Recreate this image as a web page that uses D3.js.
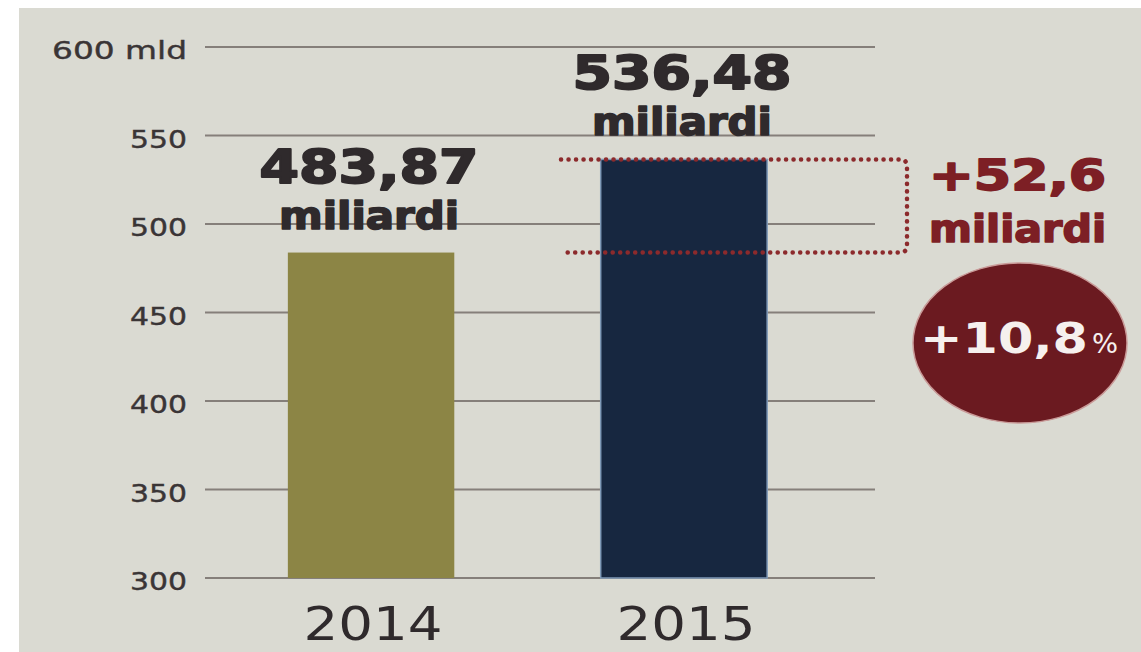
<!DOCTYPE html>
<html>
<head>
<meta charset="utf-8">
<script src="https://cdn.jsdelivr.net/npm/d3@7"></script>
<style>
  body { margin: 0; background: #fff; }
</style>
</head>
<body>
<div id="chart"></div>
<script>
  // data
  const years = ["2014", "2015"];
  const values = [483.87, 536.48];
  const valueLabels = ["483,87", "536,48"];
  const barColors = ["#8c8545", "#172740"];
  const tickValues = [300, 350, 400, 450, 500, 550, 600];
  const tickLabels = ["300", "350", "400", "450", "500", "550", "600 mld"];
  const unitLabel = "miliardi";
  const deltaLabel = "+52,6";
  const pctLabel = "+10,8";

  const width = 1141,
    height = 652;
  const red = "#7d1f25";
  const textDark = "#2f2a2c";

  const svg = d3
    .select("#chart")
    .append("svg")
    .attr("width", width)
    .attr("height", height)
    .attr("font-family", "'DejaVu Sans', Verdana, sans-serif");

  // paper background
  svg
    .append("rect")
    .attr("x", 19)
    .attr("y", 8)
    .attr("width", width - 19)
    .attr("height", height - 8)
    .attr("fill", "#dadad2");

  const y = d3.scaleLinear().domain([300, 600]).range([578, 47]);
  const x = d3
    .scaleBand()
    .domain(years)
    .range([194, 861])
    .paddingInner(0.468)
    .paddingOuter(0.3);

  // gridlines
  svg
    .append("g")
    .selectAll("line")
    .data(tickValues)
    .join("line")
    .attr("x1", 205)
    .attr("x2", 875)
    .attr("y1", (d) => y(d))
    .attr("y2", (d) => y(d))
    .attr("stroke", "#857f7a")
    .attr("stroke-width", 2);

  // tick labels
  svg
    .append("g")
    .selectAll("text")
    .data(tickValues)
    .join("text")
    .attr("x", 187)
    .attr("y", (d) => y(d) + 12)
    .attr("text-anchor", "end")
    .attr("font-size", 25)
    .attr("fill", "#3a3536")
    .attr("stroke", "#3a3536")
    .attr("stroke-width", 0.4)
    .attr("textLength", (d, i) => (tickLabels[i].length > 3 ? 135 : 57))
    .attr("lengthAdjust", "spacingAndGlyphs")
    .text((d, i) => tickLabels[i]);

  // bars
  svg
    .append("g")
    .selectAll("rect")
    .data(values)
    .join("rect")
    .attr("x", (d, i) => x(years[i]))
    .attr("width", x.bandwidth())
    .attr("y", (d) => y(d))
    .attr("height", (d) => y(300) - y(d))
    .attr("fill", (d, i) => barColors[i])
    .attr("stroke", (d, i) => (i === 1 ? "#7f9ab8" : "none"))
    .attr("stroke-width", 1.5);

  // year labels
  svg
    .append("g")
    .selectAll("text")
    .data(years)
    .join("text")
    .attr("x", (d) => x(d) + x.bandwidth() / 2 + 2)
    .attr("y", 640)
    .attr("text-anchor", "middle")
    .attr("font-size", 46)
    .attr("fill", textDark)
    .attr("textLength", 139)
    .attr("lengthAdjust", "spacingAndGlyphs")
    .text((d) => d);

  // value labels
  const vl = svg
    .append("g")
    .selectAll("g")
    .data(values)
    .join("g")
    .attr(
      "transform",
      (d, i) => `translate(${x(years[i]) + x.bandwidth() / 2 - 2},${y(d)})`
    );

  vl.append("text")
    .attr("y", -70)
    .attr("text-anchor", "middle")
    .attr("font-size", 47)
    .attr("font-weight", "bold")
    .attr("fill", textDark)
    .attr("stroke", textDark)
    .attr("stroke-width", 2)
    .attr("stroke-linejoin", "round")
    .attr("textLength", 219)
    .attr("lengthAdjust", "spacingAndGlyphs")
    .text((d, i) => valueLabels[i]);

  vl.append("text")
    .attr("y", -24)
    .attr("text-anchor", "middle")
    .attr("font-size", 37)
    .attr("font-weight", "bold")
    .attr("fill", textDark)
    .attr("stroke", textDark)
    .attr("stroke-width", 1.6)
    .attr("stroke-linejoin", "round")
    .attr("textLength", 180)
    .attr("lengthAdjust", "spacingAndGlyphs")
    .text(unitLabel);

  // dotted bracket between the two values
  const yTop = y(values[1]),
    yBot = y(values[0]),
    xr = 907,
    rc = 7;
  const p = d3.path();
  p.moveTo(561, yTop);
  p.lineTo(xr - rc, yTop);
  p.quadraticCurveTo(xr, yTop, xr, yTop + rc);
  p.lineTo(xr, yBot - rc);
  p.quadraticCurveTo(xr, yBot, xr - rc, yBot);
  p.lineTo(565, yBot);

  svg
    .append("path")
    .attr("d", p.toString())
    .attr("fill", "none")
    .attr("stroke", "#8c2a2c")
    .attr("stroke-width", 4.5)
    .attr("stroke-linecap", "round")
    .attr("stroke-dasharray", "0.1 7.4");

  // delta labels
  svg
    .append("text")
    .attr("x", 929)
    .attr("y", 190)
    .attr("font-size", 43)
    .attr("font-weight", "bold")
    .attr("fill", red)
    .attr("stroke", red)
    .attr("stroke-width", 1.8)
    .attr("stroke-linejoin", "round")
    .attr("textLength", 177)
    .attr("lengthAdjust", "spacingAndGlyphs")
    .text(deltaLabel);

  svg
    .append("text")
    .attr("x", 929)
    .attr("y", 242)
    .attr("font-size", 37)
    .attr("font-weight", "bold")
    .attr("fill", red)
    .attr("stroke", red)
    .attr("stroke-width", 1.6)
    .attr("stroke-linejoin", "round")
    .attr("textLength", 177)
    .attr("lengthAdjust", "spacingAndGlyphs")
    .text(unitLabel);

  // percent badge
  svg
    .append("ellipse")
    .attr("cx", 1020)
    .attr("cy", 343)
    .attr("rx", 107)
    .attr("ry", 80)
    .attr("fill", "#6b1a20")
    .attr("stroke", "#c99a98")
    .attr("stroke-width", 1.5);

  svg
    .append("text")
    .attr("x", 920)
    .attr("y", 353)
    .attr("font-size", 42)
    .attr("font-weight", "bold")
    .attr("fill", "#f6f0ee")
    .attr("textLength", 168)
    .attr("lengthAdjust", "spacingAndGlyphs")
    .text(pctLabel);

  svg
    .append("text")
    .attr("x", 1092)
    .attr("y", 353)
    .attr("font-size", 27)
    .attr("fill", "#f6f0ee")
    .attr("textLength", 26)
    .attr("lengthAdjust", "spacingAndGlyphs")
    .text("%");
</script>
</body>
</html>
